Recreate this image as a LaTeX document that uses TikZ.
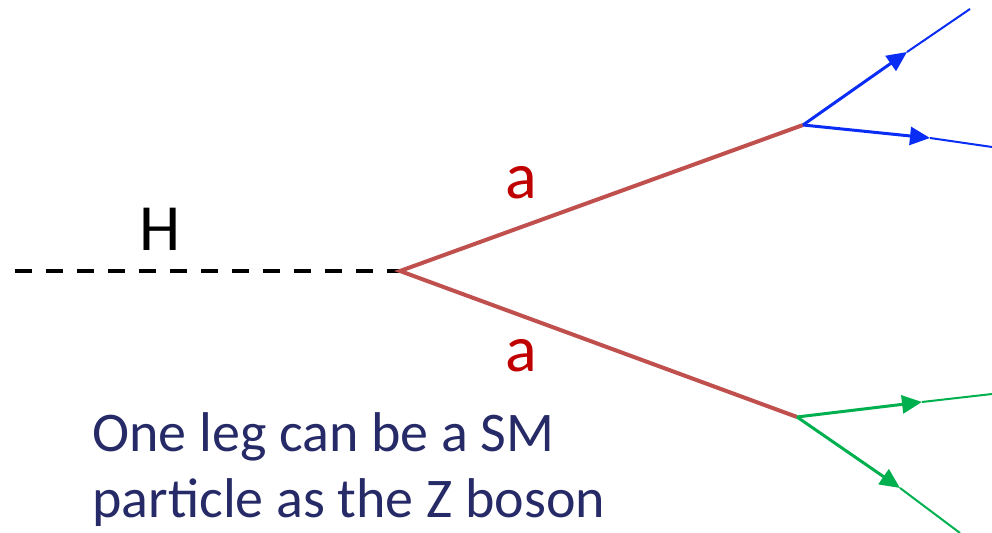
\documentclass[tikz,border=0pt]{standalone}
\usepackage{fontspec}
\setmainfont{Carlito}
\usetikzlibrary{arrows.meta}
\definecolor{alink}{HTML}{C0504D}
\definecolor{lepblue}{HTML}{0A2DF5}
\definecolor{lepgreen}{HTML}{00B04F}
\definecolor{notecol}{HTML}{262A66}
\definecolor{alabel}{HTML}{C00000}
\tikzset{
  higgs/.style={line width=1.6pt, dash pattern=on 8.5pt off 7pt},
  aline/.style={alink, line width=2pt},
  lephead/.style={line width=1.5pt, ->},
  leptail/.style={line width=1pt},
  plabel/.style={inner sep=0pt, font=\fontsize{33}{40}\selectfont}
}

\begin{document}
\begin{tikzpicture}[x=0.5pt, y=-0.5pt, >={Triangle[length=10pt, width=9pt]}]
    \useasboundingbox (0,0) rectangle (992,533);
    % vertices
    \coordinate (hin) at (15,271);
    \coordinate (hvtx) at (400,271);
    \coordinate (top) at (803,125);
    \coordinate (bot) at (797,417);
    % outgoing legs: arrow position and end
    \coordinate (b1mid) at (907,52);
    \coordinate (b1end) at (970,9);
    \coordinate (b2mid) at (930,138);
    \coordinate (b2end) at (992,147);
    \coordinate (g1mid) at (922,402);
    \coordinate (g1end) at (992,394);
    \coordinate (g2mid) at (900,488);
    \coordinate (g2end) at (960,533);

    \draw[higgs] (hin) -- (hvtx);
    \draw[aline, line join=miter] (top) -- (hvtx) -- (bot);

    \draw[lepblue, lephead] (top) -- (b1mid);
    \draw[lepblue, leptail] (b1mid) -- (b1end);
    \draw[lepblue, lephead] (top) -- (b2mid);
    \draw[lepblue, leptail] (b2mid) -- (b2end);
    \draw[lepgreen, lephead] (bot) -- (g1mid);
    \draw[lepgreen, leptail] (g1mid) -- (g1end);
    \draw[lepgreen, lephead] (bot) -- (g2mid);
    \draw[lepgreen, leptail] (g2mid) -- (g2end);

    \node[plabel] (hlab) at (160,229) {H};
    \node[plabel, alabel] (alab1) at (521,183) {a};
    \node[plabel, alabel] (alab2) at (521,356) {a};
    \node[notecol, inner sep=0pt, anchor=base west, align=left,
          font=\fontsize{28}{33}\selectfont] (note) at (92,518)
        {One leg can be a SM\\particle as the Z boson};
\end{tikzpicture}
\end{document}
